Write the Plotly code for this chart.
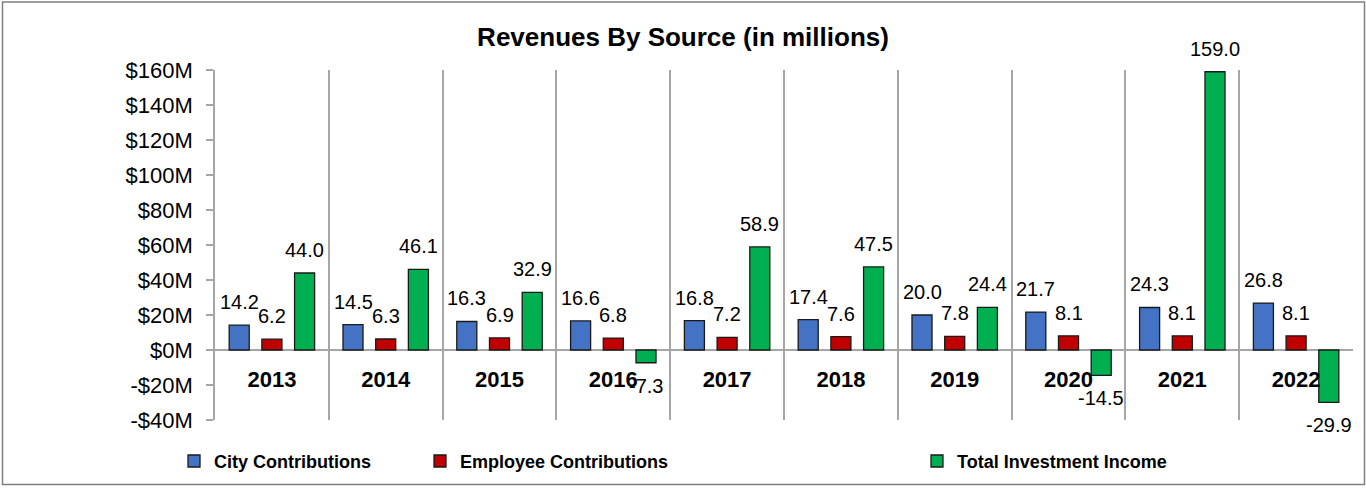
import plotly.graph_objects as go

years = ["2013", "2014", "2015", "2016", "2017", "2018", "2019", "2020", "2021", "2022"]
city = [14.2, 14.5, 16.3, 16.6, 16.8, 17.4, 20.0, 21.7, 24.3, 26.8]
employee = [6.2, 6.3, 6.9, 6.8, 7.2, 7.6, 7.8, 8.1, 8.1, 8.1]
investment = [44.0, 46.1, 32.9, -7.3, 58.9, 47.5, 24.4, -14.5, 159.0, -29.9]

series_names = ["City Contributions", "Employee Contributions", "Total Investment Income"]
series_values = [city, employee, investment]
series_colors = ["#4472C4", "#C00000", "#00B050"]

y_tickvals = [-40, -20, 0, 20, 40, 60, 80, 100, 120, 140, 160]
y_ticktext = ["-$40M", "-$20M", "$0M", "$20M", "$40M", "$60M", "$80M",
              "$100M", "$120M", "$140M", "$160M"]

W, H = 1366, 492
ML, MR, MT, MB = 215, 13, 70, 66
plot_w = W - ML - MR
plot_h = H - MT - MB
BARGAP = 0.138
BARGROUPGAP = 0.387
YMIN, YMAX = -40, 160

FONT = "Liberation Sans, Arial, sans-serif"
GRID = "#A6A6A6"

fig = go.Figure()
legend_ids = ["legend", "legend2", "legend3"]
for name, vals, col, lg in zip(series_names, series_values, series_colors, legend_ids):
    fig.add_trace(go.Bar(
        x=years, y=vals, name=name, legend=lg,
        marker=dict(color=col, line=dict(color="#1a1a1a", width=1.3)),
        hoverinfo="x+y+name",
    ))

# data labels
cat_px = plot_w / len(years)
slot_px = (1 - BARGAP) / len(series_names) * cat_px
annotations = []
for si, vals in enumerate(series_values):
    xs = (si - (len(series_names) - 1) / 2) * slot_px
    for ci, v in enumerate(vals):
        annotations.append(dict(
            x=ci, y=v, xref="x", yref="y", text="%.1f" % v, showarrow=False,
            xshift=round(xs, 1), yshift=23 if v >= 0 else -23,
            xanchor="center", yanchor="middle",
            font=dict(family=FONT, size=20, color="#000000"),
        ))

# outer border (figure edge)
def px_to_paper_x(px):
    return (px - ML) / plot_w

def px_to_paper_y(py):
    return (H - MB - py) / plot_h

shapes = [dict(
    type="rect", xref="paper", yref="paper", layer="above",
    x0=px_to_paper_x(2.5), x1=px_to_paper_x(1364.5),
    y0=px_to_paper_y(491.5), y1=px_to_paper_y(0.8),
    line=dict(color="#7f7f7f", width=1.5), fillcolor="rgba(0,0,0,0)",
)]

legend_x_px = [174, 420, 917]
legend_common = dict(orientation="h", yanchor="middle", xanchor="left",
                     font=dict(family=FONT, size=18, color="#000000", weight="bold"),
                     bgcolor="rgba(0,0,0,0)", borderwidth=0, itemclick=False)

zero_pos = (0 - YMIN) / (YMAX - YMIN)

fig.update_layout(
    width=W, height=H, autosize=False,
    margin=dict(l=ML, r=MR, t=MT, b=MB, pad=0),
    paper_bgcolor="white", plot_bgcolor="white",
    barmode="group", bargap=BARGAP, bargroupgap=BARGROUPGAP,
    title=dict(text="<b>Revenues By Source (in millions)</b>", x=0.5, xref="container",
               xanchor="center", y=1 - 37 / H, yref="container", yanchor="middle",
               font=dict(family=FONT, size=26, color="#000000")),
    xaxis=dict(type="category", tickson="boundaries", showgrid=True, gridcolor=GRID,
               gridwidth=1.5, showline=False, ticks="", anchor="free", position=zero_pos,
               tickfont=dict(family=FONT, size=22, color="#000000", weight="bold"),
               ticklabelstandoff=14, range=[-0.5, len(years) - 0.5], fixedrange=True),
    yaxis=dict(range=[YMIN, YMAX], tickvals=y_tickvals, ticktext=y_ticktext,
               showgrid=False, zeroline=True, zerolinecolor=GRID, zerolinewidth=1.5,
               showline=True, linecolor=GRID, linewidth=1.5, ticks="outside",
               ticklen=7, tickcolor=GRID, tickwidth=1.5, ticklabelstandoff=9,
               tickfont=dict(family=FONT, size=22, color="#000000"), fixedrange=True),
    annotations=annotations,
    shapes=shapes,
    legend=dict(x=px_to_paper_x(legend_x_px[0]), y=px_to_paper_y(468), **legend_common),
    legend2=dict(x=px_to_paper_x(legend_x_px[1]), y=px_to_paper_y(468), **legend_common),
    legend3=dict(x=px_to_paper_x(legend_x_px[2]), y=px_to_paper_y(468), **legend_common),
    showlegend=True,
)

fig.write_html(
    "out.html", config={"displayModeBar": False, "responsive": False},
    post_script=(
        "var de=document.documentElement, b=document.body;"
        "[de,b].forEach(function(e){e.style.margin='0';e.style.padding='0';"
        "e.style.overflow='hidden';e.style.height='492px';"
        "e.style.fontSize='0';e.style.lineHeight='0';});"
        "document.querySelectorAll('.plotly-graph-div,.plot-container,.svg-container')"
        ".forEach(function(e){e.style.display='block';});"
    ),
)
